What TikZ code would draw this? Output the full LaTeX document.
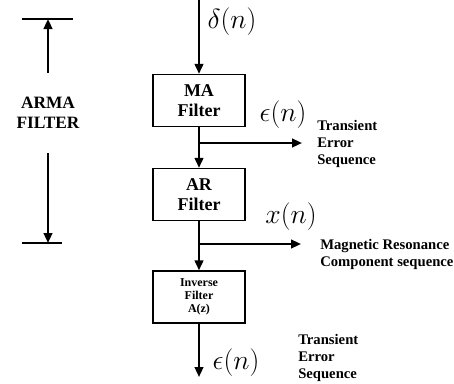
\documentclass[tikz,border=0pt]{standalone}
\usepackage{fontspec}
\setmainfont{Liberation Serif}
\usetikzlibrary{arrows.meta}
\begin{document}
\begin{tikzpicture}[x=0.75pt,y=-0.75pt,
  flow/.style={line width=1.6pt,-{Triangle[length=7.5pt,width=6.5pt]}},
  plain/.style={line width=1pt},
  filterbox/.style={draw,line width=1pt,minimum width=69pt,minimum height=39pt,inner sep=0pt,align=center,font=\bfseries\fontsize{13.5}{15}\selectfont},
  smallbox/.style={filterbox,font=\bfseries\fontsize{9}{10}\selectfont},
  sidetext/.style={anchor=west,inner sep=0pt,align=left,font=\bfseries\fontsize{11}{12.75}\selectfont},
  mathlbl/.style={inner sep=0pt,font=\fontsize{20}{22}\selectfont}]
\useasboundingbox (0,0) rectangle (454,383);
% left dimension marker
\coordinate (tl1) at (22,19); \coordinate (tl2) at (73,19);
\coordinate (bl1) at (22,243); \coordinate (bl2) at (62,243);
\draw[plain] (tl1) -- (tl2);
\draw[plain] (bl1) -- (bl2);
\node[inner sep=0pt,align=center,font=\bfseries\fontsize{13}{15}\selectfont] (arma) at (48,113) {ARMA\\FILTER};
\coordinate (upstart) at (48,73); \coordinate (uptop) at (48,19);
\coordinate (dnstart) at (48,153); \coordinate (dnbot) at (48,243);
\draw[flow] (upstart) -- (uptop);
\draw[flow] (dnstart) -- (dnbot);
% boxes
\node[filterbox] (ma) at (199,100.5) {MA\\Filter};
\node[filterbox] (ar) at (199,194.5) {AR\\Filter};
\node[smallbox] (inv) at (199,297) {Inverse\\Filter\\A(z)};
% flow
\coordinate (in) at (199,0);
\draw[flow] (in) -- (ma.north);
\draw[flow] (ma.south) -- (ar.north);
\draw[flow] (ar.south) -- (inv.north);
\coordinate (out) at (199,377);
\draw[flow] (inv.south) -- (out);
\coordinate (b1) at (199,143); \coordinate (e1) at (302,143);
\coordinate (b2) at (199,244); \coordinate (e2) at (301,244);
\draw[flow] (b1) -- (e1);
\draw[flow] (b2) -- (e2);
% labels
\node[mathlbl] (d) at (232,22) {$\delta(n)$};
\node[mathlbl] (eps1) at (283,115) {$\epsilon(n)$};
\node[mathlbl] (xn) at (291,217) {$x(n)$};
\node[mathlbl] (eps2) at (236,363) {$\epsilon(n)$};
\node[sidetext] (t1) at (317,144) {Transient\\Error\\Sequence};
\node[sidetext] (t2) at (320,254.5) {Magnetic Resonance\\Component sequence};
\node[sidetext] (t3) at (298,358) {Transient\\Error\\Sequence};
\end{tikzpicture}
\end{document}
